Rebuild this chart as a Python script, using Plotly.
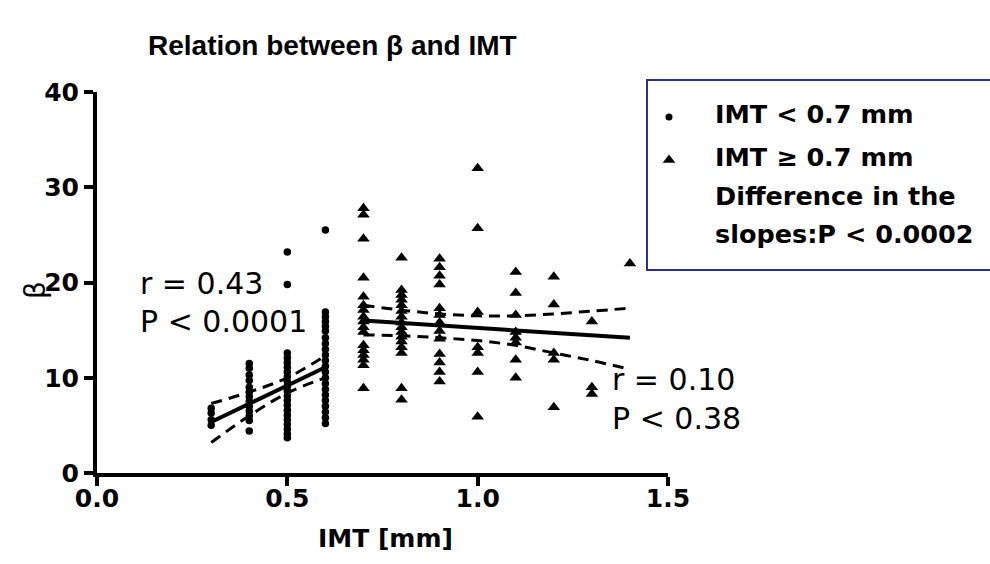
import plotly.graph_objects as go

W, H = 990, 564

# ---------------- data ----------------
low_imt_levels = [0.3, 0.4, 0.5, 0.6]
low_beta = [
    [5.0, 5.6, 6.3, 6.8],
    [4.4, 5.5, 6.0, 6.5, 7.0, 7.5, 8.0, 8.5, 9.0, 9.7, 10.3, 11.0, 11.5],
    [3.7, 4.1, 4.6, 5.1, 5.6, 6.1, 6.6, 7.1, 7.6, 8.1, 8.6, 9.1, 9.6, 10.1,
     10.6, 11.1, 11.6, 12.1, 12.6, 19.8, 23.2],
    [5.2, 5.8, 6.4, 7.0, 7.6, 8.2, 8.8, 9.4, 10.0, 10.6, 11.2, 11.8, 12.4,
     13.0, 13.6, 14.2, 14.9, 15.4, 15.9, 16.4, 16.9, 25.5],
]

high_imt_levels = [0.7, 0.8, 0.9, 1.0, 1.1, 1.2, 1.3, 1.4]
high_beta = [
    [8.9, 11.3, 11.9, 12.4, 12.9, 13.4, 14.8, 15.3, 15.9, 16.4, 17.1, 17.6,
     18.5, 20.5, 24.6, 27.1, 27.8],
    [7.7, 8.9, 12.6, 13.2, 13.8, 14.3, 14.8, 15.3, 15.8, 16.4, 17.0, 17.6,
     18.2, 18.7, 19.2, 22.6],
    [9.6, 10.6, 11.6, 12.5, 14.1, 14.9, 15.8, 16.6, 17.3, 19.8, 20.7, 21.6, 22.5],
    [5.9, 10.6, 12.6, 13.2, 16.9, 25.7, 32.0],
    [10.0, 11.9, 13.7, 14.2, 14.8, 16.6, 18.9, 21.1],
    [6.9, 11.9, 12.6, 17.7, 20.6],
    [8.3, 9.0, 15.9],
    [22.0],
]

# regression lines and 95% confidence bands
low_fit_x = [0.3, 0.4, 0.5, 0.6]
low_fit_y = [5.35, 7.25, 9.2, 11.1]
low_ci_up = [7.3, 8.5, 10.0, 12.3]
low_ci_lo = [3.2, 6.0, 8.4, 10.0]

high_fit_x = [0.7, 0.8, 0.9, 1.0, 1.1, 1.2, 1.3, 1.4]
high_fit_y = [16.0, 15.74, 15.49, 15.23, 14.97, 14.71, 14.46, 14.2]
high_ci_up = [17.6, 17.1, 16.7, 16.5, 16.5, 16.7, 17.0, 17.3]
high_ci_lo = [14.5, 14.4, 14.2, 13.9, 13.4, 12.6, 11.8, 10.9]

x_ticks = [0.0, 0.5, 1.0, 1.5]
x_tick_labels = ["0.0", "0.5", "1.0", "1.5"]
y_ticks = [0, 10, 20, 30, 40]
y_tick_labels = ["0", "10", "20", "30", "40"]

title_text = "Relation between β and IMT"
x_title = "IMT [mm]"
y_title = "β"
legend_labels = ["IMT < 0.7 mm", "IMT ≥ 0.7 mm", "Difference in the", "slopes:P < 0.0002"]
low_stats = ["r = 0.43", "P < 0.0001"]
high_stats = ["r = 0.10", "P < 0.38"]

# ---------------- flatten ----------------
low_x, low_y = [], []
for lv, vals in zip(low_imt_levels, low_beta):
    low_x += [lv] * len(vals)
    low_y += vals
high_x, high_y = [], []
for lv, vals in zip(high_imt_levels, high_beta):
    high_x += [lv] * len(vals)
    high_y += vals

TFONT = "Liberation Sans, Arial, sans-serif"
FONT = "DejaVu Sans, Verdana, sans-serif"

fig = go.Figure()

fig.add_trace(go.Scatter(x=low_x, y=low_y, mode="markers",
                         marker=dict(symbol="circle", size=7.5, color="black"),
                         showlegend=False, cliponaxis=False))
fig.add_trace(go.Scatter(x=high_x, y=high_y, mode="markers",
                         marker=dict(symbol="triangle-up", size=11, color="black"),
                         showlegend=False, cliponaxis=False))

for fx, fy, up, lo in [(low_fit_x, low_fit_y, low_ci_up, low_ci_lo),
                       (high_fit_x, high_fit_y, high_ci_up, high_ci_lo)]:
    fig.add_trace(go.Scatter(x=fx, y=fy, mode="lines",
                             line=dict(color="black", width=4), showlegend=False))
    for band in (up, lo):
        fig.add_trace(go.Scatter(x=fx, y=band, mode="lines", line_shape="spline",
                                 line=dict(color="black", width=3, dash="11px,7px"),
                                 showlegend=False))

# legend markers on a pixel overlay axis
fig.add_trace(go.Scatter(x=[669], y=[117], mode="markers", xaxis="x2", yaxis="y2",
                         marker=dict(symbol="circle", size=7, color="black"),
                         showlegend=False, hoverinfo="skip"))
fig.add_trace(go.Scatter(x=[669], y=[160], mode="markers", xaxis="x2", yaxis="y2",
                         marker=dict(symbol="triangle-up", size=11, color="black"),
                         showlegend=False, hoverinfo="skip"))

x0px, x1px, y0px, y1px = 97, 668, 473, 92
axis_common = dict(showline=True, linewidth=4, linecolor="black", ticks="outside",
                   ticklen=9, tickwidth=4, tickcolor="black", showgrid=False,
                   zeroline=False, automargin=False,
                   tickfont=dict(family=FONT, size=25, color="black", weight="bold"))

fig.update_layout(
    width=W, height=H,
    margin=dict(l=0, r=0, t=0, b=0, pad=0, autoexpand=False),
    paper_bgcolor="white", plot_bgcolor="rgba(0,0,0,0)",
    xaxis=dict(domain=[x0px / W, x1px / W], range=[0, 1.5], tickvals=x_ticks,
               ticktext=x_tick_labels, anchor="y", ticklabelstandoff=-9, **axis_common),
    yaxis=dict(domain=[1 - y0px / H, 1 - y1px / H], range=[0, 40], tickvals=y_ticks,
               ticktext=y_tick_labels, anchor="x", **axis_common),
    xaxis2=dict(domain=[0, 1], range=[0, W], visible=False, anchor="y2",
                fixedrange=True, automargin=False),
    yaxis2=dict(domain=[0, 1], range=[H, 0], visible=False, anchor="x2",
                fixedrange=True, automargin=False),
    showlegend=False,
)

ann = []
def px_text(x, y, text, size, bold=False, xanchor="left", angle=0, family=FONT):
    ann.append(dict(x=x, y=y, xref="x2", yref="y2", text=text, showarrow=False,
                    xanchor=xanchor, yanchor="middle", textangle=angle,
                    font=dict(family=family, size=size, color="black",
                              weight="bold" if bold else "normal")))

px_text(146, 45, title_text, 28, bold=True, family=TFONT)
px_text(385, 538, x_title, 25, bold=True, xanchor="center")
px_text(35, 290, y_title, 28, xanchor="center", angle=-90)
px_text(138, 283, low_stats[0], 30)
px_text(138, 321, low_stats[1], 30)
px_text(610, 379, high_stats[0], 30)
px_text(610, 418, high_stats[1], 30)
leg_y = [114, 157, 196, 234]
for yy, t in zip(leg_y, legend_labels):
    px_text(713, yy, t, 25.5, bold=True)
fig.update_layout(annotations=ann)

fig.add_shape(type="rect", xref="x2", yref="y2", x0=647, x1=1000, y0=80, y1=270,
              line=dict(color="#2b2f8f", width=2), fillcolor="rgba(0,0,0,0)")

fig.write_html("out.html")
